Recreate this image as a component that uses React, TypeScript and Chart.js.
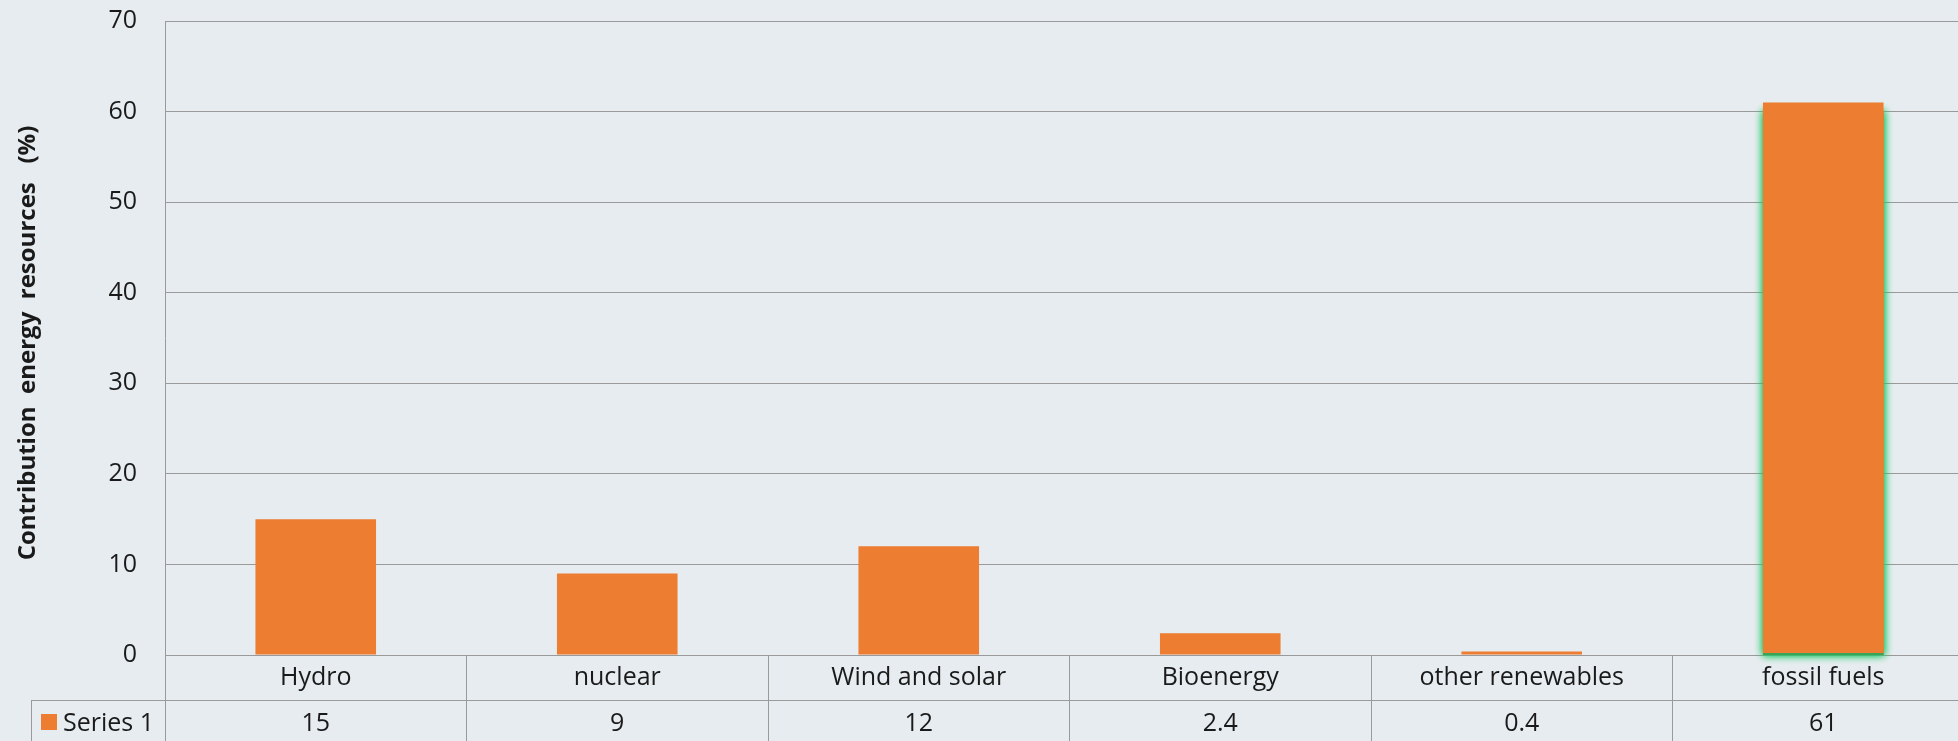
import React, { useEffect, useRef } from "react";
import { Chart, registerables } from "chart.js";

Chart.register(...registerables);

const categories: string[] = ["Hydro", "nuclear", "Wind and solar", "Bioenergy", "other renewables", "fossil fuels"];
const seriesValues: number[] = [15, 9, 12, 2.4, 0.4, 61];
const seriesLabel = "Series 1";
const yAxisTitle = "Contribution  energy  resources   (%)";
const yMin = 0;
const yMax = 70;
const yStep = 10;

const BG = "#e7ecf0";
const ORANGE = "#ed7d31";
const GRID = "#9a9a9a";
const TEXT = "#1a1a1a";
const FONT = "'Open Sans', 'Noto Sans', sans-serif";

export default function App() {
  const ref = useRef<HTMLCanvasElement | null>(null);

  useEffect(() => {
    document.body.style.margin = "0";
    document.body.style.background = BG;
    const canvas = ref.current!;

    const glowPlugin = {
      id: "glow",
      beforeDatasetsDraw(chart: any) {
        const meta = chart.getDatasetMeta(0);
        const bar = meta.data[5];
        if (!bar) return;
        const { x, y, base, width } = bar.getProps(["x", "y", "base", "width"], true);
        const ctx = chart.ctx;
        ctx.save();
        ctx.shadowColor = "rgba(30,200,100,1)";
        ctx.shadowBlur = 8;
        ctx.fillStyle = ORANGE;
        ctx.fillRect(x - width / 2, y + 8, width, base - y - 8);
        ctx.fillRect(x - width / 2, y + 8, width, base - y - 8);
        ctx.restore();
      },
      afterDatasetsDraw(chart: any) {
        const meta = chart.getDatasetMeta(0);
        const bar = meta.data[5];
        if (!bar) return;
        const { x, width, base } = bar.getProps(["x", "width", "base"], true);
        const ctx = chart.ctx;
        ctx.save();
        ctx.fillStyle = "rgba(40,170,90,0.9)";
        ctx.fillRect(x - width / 2, base - 1.5, width, 2);
        ctx.restore();
      },
    };

    const tablePlugin = {
      id: "table",
      afterDraw(chart: any) {
        const ctx = chart.ctx;
        const area = chart.chartArea;
        const xs = chart.scales.x;
        const rowSplit = area.bottom + 45;
        ctx.save();
        ctx.strokeStyle = GRID;
        ctx.lineWidth = 1;
        ctx.beginPath();
        ctx.moveTo(31, rowSplit + 0.5);
        ctx.lineTo(chart.width, rowSplit + 0.5);
        ctx.moveTo(31.5, rowSplit);
        ctx.lineTo(31.5, chart.height);
        ctx.stroke();

        ctx.fillStyle = TEXT;
        ctx.font = `25px ${FONT}`;
        ctx.textAlign = "center";
        ctx.textBaseline = "middle";
        categories.forEach((c, i) => {
          const px = xs.getPixelForValue(i);
          ctx.fillText(c, px, area.bottom + 23);
          ctx.fillText(String(seriesValues[i]), px, rowSplit + 24);
        });

        ctx.fillStyle = ORANGE;
        ctx.fillRect(41, rowSplit + 14, 16, 16);
        ctx.fillStyle = TEXT;
        ctx.textAlign = "left";
        ctx.fillText(seriesLabel, 63, rowSplit + 24);

        ctx.translate(28, 343);
        ctx.rotate(-Math.PI / 2);
        ctx.textAlign = "center";
        ctx.font = `bold 24px ${FONT}`;
        ctx.fillText(yAxisTitle, 0, 0);
        ctx.restore();
      },
    };

    const chart = new Chart(canvas, {
      type: "bar",
      data: {
        labels: categories,
        datasets: [
          {
            label: seriesLabel,
            data: seriesValues,
            backgroundColor: ORANGE,
            borderWidth: 0,
            categoryPercentage: 1,
            barPercentage: 0.4,
          },
        ],
      },
      options: {
        responsive: false,
        animation: false,
        layout: { padding: { top: 21, right: 1, left: 0, bottom: 0 } },
        plugins: {
          legend: { display: false },
          tooltip: { enabled: false },
          title: { display: false },
        },
        scales: {
          x: {
            ticks: { display: false },
            grid: {
              offset: true,
              drawOnChartArea: false,
              drawTicks: true,
              tickLength: 86,
              color: GRID,
              lineWidth: 1,
            },
            border: { display: false },
            afterFit(scale: any) {
              scale.height = 86;
              scale.paddingLeft = 0;
              scale.paddingRight = 0;
            },
          },
          y: {
            min: yMin,
            max: yMax,
            ticks: {
              stepSize: yStep,
              color: TEXT,
              font: { family: FONT, size: 25 },
              padding: 28,
            },
            grid: { color: GRID, lineWidth: 1, drawTicks: false },
            border: { display: true, color: GRID },
            afterFit(scale: any) {
              scale.width = 165;
              scale.paddingTop = 0;
              scale.paddingBottom = 0;
            },
          },
        },
      },
      plugins: [glowPlugin, tablePlugin],
    });

    return () => chart.destroy();
  }, []);

  return (
    <div style={{ width: 1958, height: 741, overflow: "hidden", background: BG }}>
      <canvas ref={ref} width={1975} height={741} style={{ display: "block" }} />
    </div>
  );
}
